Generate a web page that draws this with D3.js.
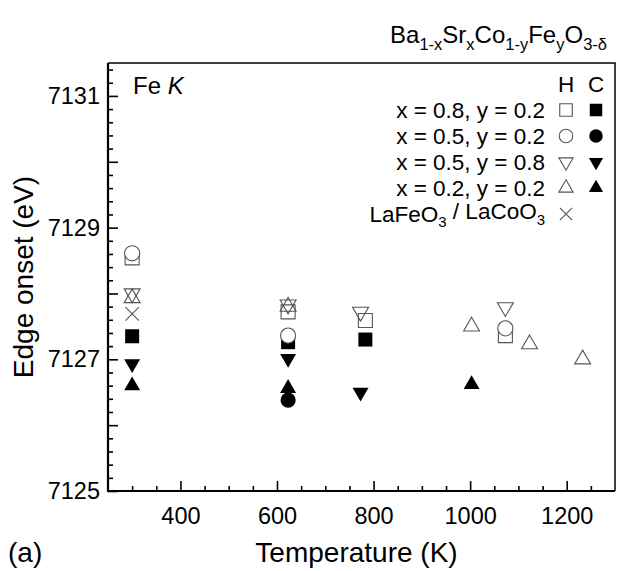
<!DOCTYPE html>
<html><head><meta charset="utf-8">
<script src="https://cdn.jsdelivr.net/npm/d3@7"></script>
<style>
body{margin:0;background:#fff}
text{font-family:"Liberation Sans",Arial,Helvetica,sans-serif;fill:#000}
</style>
</head><body>
<svg id="c" width="617" height="571"></svg>
<script>
// ---- data ----
const xTicks = [400, 600, 800, 1000, 1200];
const yTicks = [7125, 7127, 7129, 7131];
const seriesLabels = ["x = 0.8, y = 0.2", "x = 0.5, y = 0.2", "x = 0.5, y = 0.8", "x = 0.2, y = 0.2"];
const sqH = [[300, 7128.54], [623, 7127.72], [783, 7127.59], [1073, 7127.36]];
const sqC = [[300, 7127.35], [623, 7127.26], [783, 7127.30]];
const ciH = [[300, 7128.61], [623, 7127.36], [1073, 7127.47]];
const ciC = [[623, 7126.38]];
const dnH = [[300, 7128.00], [623, 7127.83], [773, 7127.72], [1073, 7127.79]];
const dnC = [[300, 7126.93], [623, 7127.01], [773, 7126.50]];
const upH = [[300, 7127.93], [623, 7127.80], [1003, 7127.50], [1123, 7127.23], [1233, 7127.00]];
const upC = [[300, 7126.60], [623, 7126.56], [1003, 7126.62]];
const lao = [[300, 7127.69]];

// ---- layout ----
const svg = d3.select("#c");
const L = 108, R = 615, T = 63, B = 491;
const x = d3.scaleLinear().domain([250, 1300]).range([L, R]);
const y = d3.scaleLinear().domain([7125, 7131.5]).range([B, T]);

// symbols
const symX = { draw(ctx, size) { const r = Math.sqrt(size) / 2; ctx.moveTo(-r, -r); ctx.lineTo(r, r); ctx.moveTo(r, -r); ctx.lineTo(-r, r); } };
const shapes = {
  sq: { type: d3.symbolSquare, size: 196, rot: 0 },
  ci: { type: d3.symbolCircle, size: 180, rot: 0 },
  dn: { type: d3.symbolTriangle, size: 110, rot: 180 },
  up: { type: d3.symbolTriangle, size: 110, rot: 0 },
  x:  { type: symX, size: 180, rot: 0 }
};
const GRAY = "#555";

// ---- axes ----
const xMinor = d3.range(300, 1300, 50).filter(v => !xTicks.includes(v));
const yMajor = d3.range(7125, 7131.5, 1);
const yMinor = d3.range(7125.2, 7131.5, 0.2).map(v => +v.toFixed(1)).filter(v => Math.abs(v - Math.round(v)) > 0.01);

const gx = svg.append("g").attr("transform", `translate(0,${B})`);
gx.append("g").call(d3.axisBottom(x).tickValues(xMinor).tickSize(-5).tickFormat(""))
  .call(g => g.select(".domain").remove());
gx.append("g").call(d3.axisBottom(x).tickValues(xTicks).tickSize(-10).tickPadding(16).tickFormat(d3.format("d")))
  .call(g => g.select(".domain").remove())
  .call(g => g.selectAll("text").attr("font-size", 23.5).attr("font-family", "Liberation Sans, Arial, sans-serif"));

const gy = svg.append("g").attr("transform", `translate(${L},0)`);
gy.append("g").call(d3.axisLeft(y).tickValues(yMinor).tickSize(-5).tickFormat(""))
  .call(g => g.select(".domain").remove());
gy.append("g").call(d3.axisLeft(y).tickValues(yMajor).tickSize(-10).tickPadding(8)
    .tickFormat(d => yTicks.includes(d) ? d3.format("d")(d) : ""))
  .call(g => g.select(".domain").remove())
  .call(g => g.selectAll("text").attr("font-size", 23.5).attr("font-family", "Liberation Sans, Arial, sans-serif"));
svg.selectAll(".tick line").attr("stroke", "#000").attr("stroke-width", 1.6);

// frame
svg.append("path").attr("d", `M${R},${B}V${T}H${L}`).attr("fill", "none").attr("stroke", "#000").attr("stroke-width", 1.5);
svg.append("path").attr("d", `M${L},${T}V${B}H${R}`).attr("fill", "none").attr("stroke", "#000").attr("stroke-width", 2.2);

// ---- points ----
const series = [
  { d: sqH, s: "sq", filled: false }, { d: sqC, s: "sq", filled: true },
  { d: ciH, s: "ci", filled: false }, { d: ciC, s: "ci", filled: true },
  { d: dnH, s: "dn", filled: false }, { d: dnC, s: "dn", filled: true },
  { d: upH, s: "up", filled: false }, { d: upC, s: "up", filled: true },
  { d: lao, s: "x", filled: false }
];
function styleMark(sel, sh, filled) {
  const isTri = sh === "dn" || sh === "up";
  sel.attr("fill", filled ? "#000" : (sh === "x" ? "none" : (isTri ? "none" : "#fff")))
     .attr("stroke", filled ? "none" : GRAY)
     .attr("stroke-width", 1.1);
}
const gp = svg.append("g");
series.forEach(sr => {
  const sh = shapes[sr.s];
  gp.selectAll(null).data(sr.d).join("path")
    .attr("d", d3.symbol().type(sh.type).size(sh.size))
    .attr("transform", d => `translate(${x(d[0])},${y(d[1])}) rotate(${sh.rot})`)
    .call(styleMark, sr.s, sr.filled);
});

// ---- legend ----
const lg = svg.append("g");
const openX = 566, fillX = 596, textR = 545, row0 = 84, rowH = 26;
const LFS = 22.5;
lg.append("text").attr("x", openX).attr("y", row0).attr("dy", "0.36em").attr("text-anchor", "middle").attr("font-size", LFS).text("H");
lg.append("text").attr("x", fillX).attr("y", row0).attr("dy", "0.36em").attr("text-anchor", "middle").attr("font-size", LFS).text("C");
const legShapes = ["sq", "ci", "dn", "up"];
seriesLabels.forEach((lab, i) => {
  const cy = row0 + rowH * (i + 1);
  lg.append("text").attr("x", textR).attr("y", cy).attr("dy", "0.36em").attr("text-anchor", "end").attr("font-size", LFS).text(lab);
  const sh = shapes[legShapes[i]];
  const sz = sh.size * 0.8;
  lg.append("path").attr("d", d3.symbol().type(sh.type).size(sz)())
    .attr("transform", `translate(${openX},${cy}) rotate(${sh.rot})`).call(styleMark, legShapes[i], false);
  lg.append("path").attr("d", d3.symbol().type(sh.type).size(sz)())
    .attr("transform", `translate(${fillX},${cy}) rotate(${sh.rot})`).call(styleMark, legShapes[i], true);
});
{
  const cy = row0 + rowH * 5;
  const t = lg.append("text").attr("x", textR).attr("y", cy).attr("dy", "0.36em").attr("text-anchor", "end").attr("font-size", LFS);
  t.append("tspan").text("LaFeO");
  t.append("tspan").attr("font-size", 15).attr("dy", "0.35em").text("3");
  t.append("tspan").attr("dy", "-0.35em").text(" / LaCoO");
  t.append("tspan").attr("font-size", 15).attr("dy", "0.35em").text("3");
  lg.append("path").attr("d", d3.symbol().type(symX).size(150)())
    .attr("transform", `translate(${openX},${cy})`).call(styleMark, "x", false);
}

// ---- texts ----
const fk = svg.append("text").attr("x", 133).attr("y", 94).attr("font-size", 24);
fk.append("tspan").text("Fe ");
fk.append("tspan").attr("font-style", "italic").text("K");

const ttl = svg.append("text").attr("x", 607).attr("y", 43).attr("text-anchor", "end").attr("font-size", 24);
[["Ba", 0], ["1-x", 1], ["Sr", 0], ["x", 1], ["Co", 0], ["1-y", 1], ["Fe", 0], ["y", 1], ["O", 0], ["3-δ", 1]].forEach(([s, sub], i, arr) => {
  const prevSub = i > 0 ? arr[i - 1][1] : 0;
  const dy = sub && !prevSub ? 7 : (!sub && prevSub ? -7 : 0);
  ttl.append("tspan").attr("font-size", sub ? 16.5 : 24).attr("dy", dy).text(s);
});

svg.append("text").attr("x", (L + R) / 2 - 5).attr("y", 562).attr("text-anchor", "middle").attr("font-size", 28).text("Temperature (K)");
svg.append("text").attr("x", 8).attr("y", 562).attr("font-size", 28).text("(a)");
svg.append("text").attr("transform", `translate(33,${(T + B) / 2}) rotate(-90)`).attr("text-anchor", "middle").attr("font-size", 28).text("Edge onset (eV)");
</script>
</body></html>
